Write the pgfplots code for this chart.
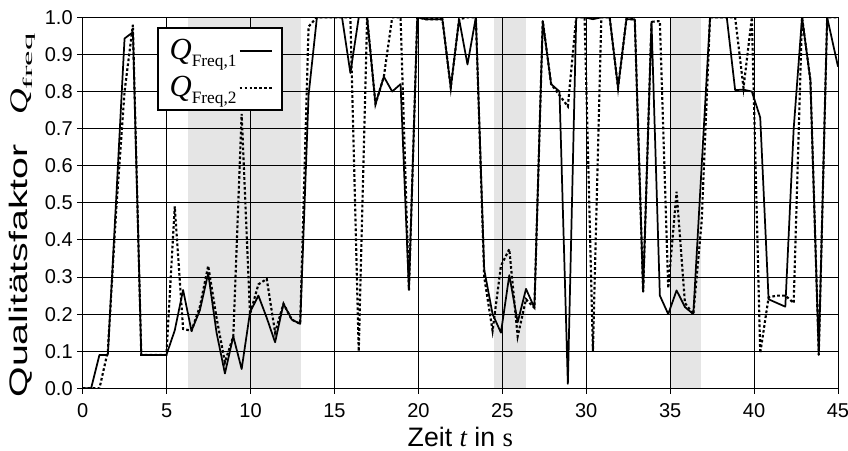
\documentclass[border=0pt]{standalone}
\usepackage{fontspec}
\setmainfont{Liberation Sans}
\newfontfamily\serif{Liberation Serif}
\usepackage{pgfplots}
\pgfplotsset{compat=1.18}
\usepackage{pgfplotstable}

\pgfplotstableread{
k s1 s2
0 0 0
1 0 0
2 0.09 0
3 0.09 0.10
4 0.51 0.48
5 0.943 0.80
6 0.96 0.98
7 0.09 0.09
8 0.09 0.09
9 0.09 0.09
10 0.09 0.09
11 0.156 0.49
12 0.265 0.16
13 0.155 0.155
14 0.21 0.22
15 0.31 0.33
16 0.15 0.19
17 0.04 0.07
18 0.14 0.14
19 0.052 0.74
20 0.205 0.20
21 0.25 0.28
22 0.19 0.295
23 0.124 0.15
24 0.228 0.228
25 0.185 0.185
26 0.174 0.174
27 0.79 0.975
28 1.0 1.0
29 1.0 1.0
30 1.0 1.0
31 1.0 1.0
32 0.85 1.0
33 1.0 0.10
34 1.0 1.0
35 0.766 0.766
36 0.84 0.84
37 0.80 1.0
38 0.82 1.0
39 0.265 0.265
40 1.0 1.0
41 0.995 0.995
42 0.995 0.995
43 0.995 0.995
44 0.81 0.81
45 0.995 0.995
46 0.873 1.0
47 1.0 1.0
48 0.32 0.30
49 0.20 0.155
50 0.15 0.33
51 0.305 0.375
52 0.178 0.14
53 0.268 0.24
54 0.217 0.217
55 0.99 0.99
56 0.82 0.82
57 0.80 0.79
58 0.012 0.76
59 1.0 1.0
60 1.0 1.0
61 0.995 0.10
62 1.0 1.0
63 1.0 1.0
64 0.81 0.81
65 0.995 0.995
66 0.995 0.995
67 0.26 0.26
68 0.988 0.988
69 0.25 0.99
70 0.20 0.27
71 0.264 0.53
72 0.219 0.23
73 0.20 0.20
74 0.60 0.45
75 1.0 1.0
76 1.0 1.0
77 1.0 1.0
78 0.804 1.0
79 0.805 0.81
80 0.80 1.0
81 0.73 0.095
82 0.24 0.245
83 0.23 0.25
84 0.22 0.25
85 0.70 0.23
86 1.0 1.0
87 0.83 0.83
88 0.09 0.09
89 1.0 1.0
90.3 0.867 1.0
}\datatable

\newcommand{\Qsub}[1]{{\fontsize{23}{23}\selectfont\serif\itshape Q}\raisebox{-4.8pt}{\fontsize{13}{13}\selectfont\serif #1}\hspace{6pt}}

\begin{document}
\begin{tikzpicture}
\begin{axis}[
  set layers,
  scale only axis, width=566pt, height=278pt,
  xmin=0, xmax=45, ymin=0, ymax=1,
  xtick={0,5,10,15,20,25,30,35,40,45},
  ytick={0,0.1,0.2,0.3,0.4,0.5,0.6,0.7,0.8,0.9,1.0},
  yticklabel style={/pgf/number format/fixed, /pgf/number format/fixed zerofill, /pgf/number format/precision=1},
  xticklabel style={yshift=-4pt},
  /pgf/number format/assume math mode=true,
  tick label style={font=\fontsize{15}{15}\selectfont},
  grid=major,
  major grid style={black, line width=0.65pt},
  tick align=outside, major tick length=4pt,
  tick style={black, line width=0.65pt},
  xtick pos=left, ytick pos=left,
  axis line style={line width=0.7pt},
  every axis y label/.style={at={(axis description cs:-0.0804,0.466)}, rotate=90, anchor=center},
  every axis x label/.style={at={(axis description cs:0.5,-0.157)}, anchor=base},
  xlabel={\fontsize{20}{20}\selectfont Zeit {\serif\itshape t} in {\serif s}},
  ylabel={\scalebox{1.55}[1]{\fontsize{19}{19}\selectfont Qualitätsfaktor}\hspace{22pt}\scalebox{1.4}[1]{\fontsize{19}{19}\selectfont\serif\itshape Q}\raisebox{-4pt}{\scalebox{2.6}[1]{\fontsize{10}{10}\selectfont\serif freq}}},
  legend style={at={(axis description cs:0.0984,0.974)}, anchor=north west,
    draw=black, line width=1.8pt, fill=white, inner xsep=7pt, inner ysep=7pt,
    row sep=8pt, legend cell align=left,
    nodes={inner sep=1.5pt}},
  legend plot pos=right,
  legend image code/.code={\draw[#1] (0pt,0pt) -- (24pt,0pt);},
]
\addplot[draw=none, fill=gray!20, on layer=axis background, forget plot] coordinates {(6.3,1) (13.03,1)} \closedcycle;
\addplot[draw=none, fill=gray!20, on layer=axis background, forget plot] coordinates {(24.48,1) (26.43,1)} \closedcycle;
\addplot[draw=none, fill=gray!20, on layer=axis background, forget plot] coordinates {(35.0,1) (36.84,1)} \closedcycle;
\addplot[black, line width=1.3pt, line join=round] table[x expr=\thisrow{k}*0.49835, y=s1] {\datatable};
\addlegendentry{\Qsub{Freq,1}}
\addplot[black, line width=1.6pt, dash pattern=on 2pt off 1.7pt] table[x expr=\thisrow{k}*0.49835, y=s2] {\datatable};
\addlegendentry{\Qsub{Freq,2}}
\end{axis}
\pgfresetboundingbox
\useasboundingbox ([shift={(-62pt,-46.7pt)}]current axis.south west) rectangle ([shift={(7.5pt,13pt)}]current axis.north east);
\end{tikzpicture}
\end{document}
